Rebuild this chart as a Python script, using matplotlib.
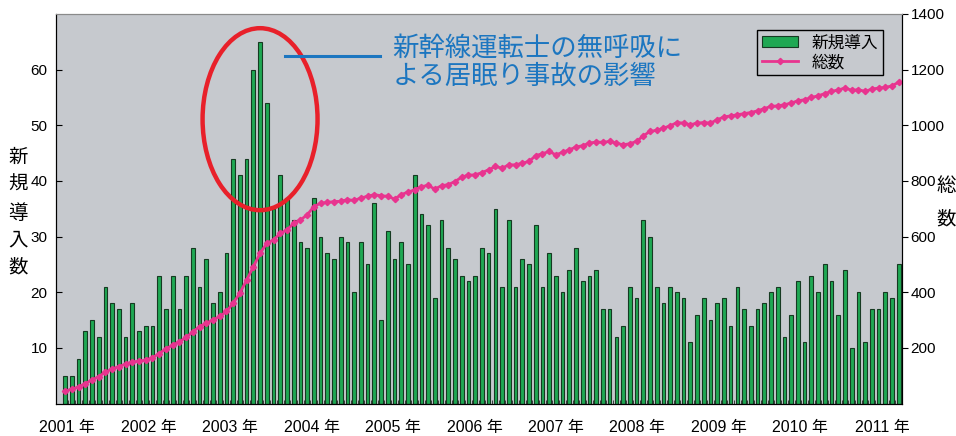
import numpy as np
import matplotlib.pyplot as plt
from matplotlib.patches import Ellipse

# ===== data (monthly, Jan 2001 - May 2011) =====
years = [f"{y} 年" for y in range(2001, 2012)]

new_units = [5, 5, 8, 13, 15, 12, 21, 18, 17, 12, 18, 13,
             14, 14, 23, 17, 23, 17, 23, 28, 21, 26, 18, 20,
             27, 44, 41, 44, 60, 65, 54, 35, 41, 37, 33, 29,
             28, 37, 30, 27, 26, 30, 29, 20, 29, 25, 36, 15,
             31, 26, 29, 25, 41, 34, 32, 19, 33, 28, 26, 23,
             22, 23, 28, 27, 35, 21, 33, 21, 26, 25, 32, 21,
             27, 23, 20, 24, 28, 22, 23, 24, 17, 17, 12, 14,
             21, 19, 33, 30, 21, 18, 21, 20, 19, 11, 16, 19,
             15, 18, 19, 14, 21, 17, 14, 17, 18, 20, 21, 12,
             16, 22, 11, 23, 20, 25, 22, 16, 24, 10, 20, 11,
             17, 17, 20, 19, 25]

total_units = [45, 52, 60, 72, 85, 97, 113, 125, 133, 142, 150, 152,
               157, 165, 180, 197, 210, 222, 238, 258, 277, 289, 301, 313,
               331, 361, 397, 444, 492, 540, 576, 588, 612, 624, 648, 660,
               678, 708, 720, 723, 726, 727, 733, 730, 739, 745, 751, 747,
               745, 735, 751, 760, 768, 780, 784, 771, 783, 787, 798, 814,
               821, 822, 830, 840, 852, 846, 858, 858, 864, 870, 891, 898,
               906, 894, 903, 912, 922, 927, 936, 940, 939, 942, 936, 930,
               934, 942, 962, 978, 982, 990, 998, 1010, 1008, 1002, 1008, 1010,
               1008, 1020, 1030, 1034, 1038, 1042, 1046, 1052, 1060, 1068, 1070, 1074,
               1080, 1088, 1092, 1100, 1106, 1114, 1122, 1127, 1134, 1126, 1128, 1122,
               1130, 1134, 1136, 1142, 1155]

months = np.arange(len(new_units))
# year labels in the source drift slightly right of each January bar
year_pos = np.arange(len(years)) * 12.12 + 0.3

plt.rcParams['font.family'] = ['Liberation Sans', 'Noto Sans CJK JP']

bg = '#c6c9ce'
blue = '#1c76c0'

fig = plt.figure(figsize=(9.56, 4.36), dpi=100)
ax = fig.add_axes([0.0586, 0.0743, 0.885, 0.8936])
ax.set_facecolor(bg)

bars = ax.bar(months, new_units, width=0.55, color='#1fa853',
              edgecolor='#163a22', linewidth=0.8, label='新規導入')
ax.set_xlim(-1.35, 124.35)
ax.set_ylim(0, 70)
ax.set_yticks(range(10, 61, 10))
ax.tick_params(axis='y', direction='in', length=4, labelsize=11, pad=6)
ax.set_xticks(year_pos)
ax.set_xticklabels(years)
ax.set_xticks(months + 0.5, minor=True)
ax.tick_params(axis='x', which='major', length=0, pad=12, labelsize=11.5)
ax.tick_params(axis='x', which='minor', direction='in', length=3, color='#222222')
ax.spines['top'].set_color('#8a8a8a')

# 総数 line on the right axis
ax2 = ax.twinx()
line, = ax2.plot(months, total_units, color='#e8348f', lw=2.0, marker='D',
                 ms=3.2, label='総数')
ax2.set_ylim(0, 1400)
ax2.set_yticks(range(200, 1401, 200))
ax2.tick_params(axis='y', direction='out', length=4, labelsize=11, pad=2)
ax2.spines['top'].set_color('#8a8a8a')

# highlight of the 2003 peak
ax.add_patch(Ellipse((29.0, 51.1), width=17.1, height=32.7, fill=False,
                     edgecolor='#e8202a', lw=3.2, zorder=5))
ax.plot([32.7, 46.8], [62.5, 62.5], color=blue, lw=2.2, zorder=5)
ax.text(48.7, 61.4, "新幹線運転士の無呼吸に\nよる居眠り事故の影響", color=blue,
        fontsize=19, ha='left', va='center', linespacing=1.15, zorder=6)

leg = ax2.legend(handles=[bars, line], loc='upper right',
                 bbox_to_anchor=(0.9775, 0.959), borderaxespad=0,
                 fontsize=12, facecolor=bg, edgecolor='black', fancybox=False,
                 framealpha=1, handlelength=2.2, borderpad=0.3, labelspacing=0.25)
leg.get_frame().set_linewidth(1.0)

# vertical axis titles
fig.text(18 / 956, 1 - 213 / 436, "新\n規\n導\n入\n数", ha='center', va='center',
         fontsize=14, linespacing=1.72)
fig.text(946 / 956, 1 - 203 / 436, "総\n数", ha='center', va='center',
         fontsize=14, linespacing=2.2)

plt.savefig("out.png", dpi=100)
